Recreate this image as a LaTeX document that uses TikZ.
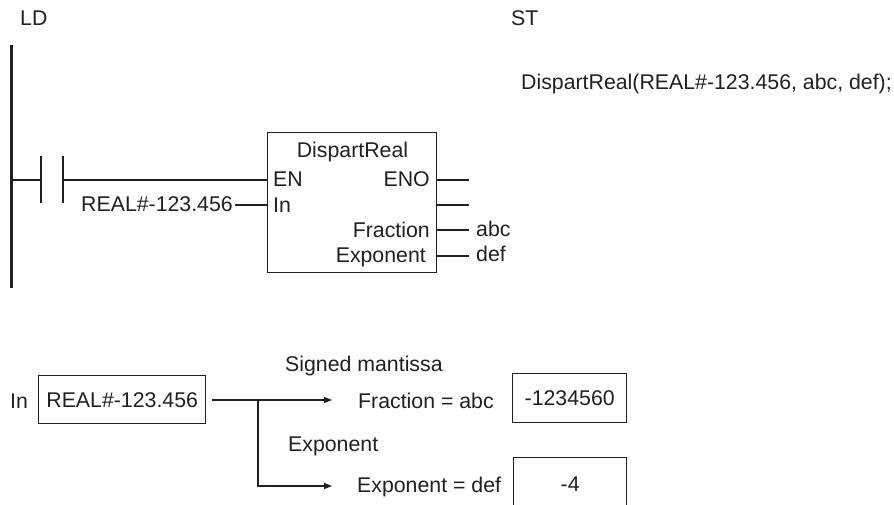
\documentclass[tikz,border=0pt]{standalone}
\usepackage{fontspec}
\setmainfont{Liberation Sans}
\usetikzlibrary{arrows.meta}
\definecolor{ink}{HTML}{231F20}
\begin{document}
\begin{tikzpicture}[x=1pt,y=-1pt,
  every node/.style={text=ink, font=\fontsize{21.3}{25}\selectfont, inner sep=0pt},
  wire/.style={draw=ink, line width=1.4pt},
  rail/.style={draw=ink, line width=3pt},
  valbox/.style={draw=ink, line width=1.4pt, anchor=north west},
  arr/.style={wire, -{Triangle[length=8pt,width=6pt]}}]
\useasboundingbox (0,0) rectangle (894,504);

% headings
\node[anchor=base west] (ld) at (20,25) {LD};
\node[anchor=base west] (st) at (511,25) {ST};
\node[anchor=base west] (code) at (521,89) {DispartReal(REAL\#-123.456, abc, def);};

% ladder rail and contact
\coordinate (railtop) at (11,45);
\coordinate (railbot) at (11,288);
\draw[rail] (railtop) -- (railbot);
\coordinate (r1) at (11,180);
\coordinate (c1t) at (41,156);
\coordinate (c1b) at (41,203);
\coordinate (c1m) at (41,180);
\coordinate (c2t) at (63,156);
\coordinate (c2b) at (63,203);
\coordinate (c2m) at (63,180);
\draw[wire] (r1) -- (c1m);
\draw[wire] (c1t) -- (c1b);
\draw[wire] (c2t) -- (c2b);

% function block
\node[draw=ink, line width=1.4pt, minimum width=169pt, minimum height=140pt,
      anchor=north west] (blk) at (267,132) {};
\draw[wire] (c2m) -- (blk.west |- c2m);
\node[anchor=base] (title) at (352.5,157) {DispartReal};
\node[anchor=base west] (en) at (273,186) {EN};
\node[anchor=base east] (eno) at (430,186) {ENO};
\node[anchor=base west] (in) at (273,212) {In};
\node[anchor=base east] (frac) at (430,237) {Fraction};
\node[anchor=base east] (expo) at (426,262) {Exponent};

\node[anchor=base east] (realtop) at (233,211) {REAL\#-123.456};
\coordinate (inwire) at (235,205);
\draw[wire] (inwire) -- (blk.west |- inwire);

\coordinate (o1) at (469,180);
\coordinate (o2) at (469,205);
\coordinate (o3) at (469,230);
\coordinate (o4) at (469,256);
\draw[wire] (blk.east |- o1) -- (o1);
\draw[wire] (blk.east |- o2) -- (o2);
\draw[wire] (blk.east |- o3) -- (o3);
\draw[wire] (blk.east |- o4) -- (o4);
\node[anchor=base west] (abc) at (476,236) {abc};
\node[anchor=base west] (def) at (476,261) {def};

% lower explanation
\node[anchor=base west] (inlab) at (10,408) {In};
\node[valbox, minimum width=167pt, minimum height=48pt] (inbox) at (38,375) {REAL\#-123.456};
\coordinate (a0) at (212,400);
\coordinate (br) at (258,400);
\coordinate (a1) at (332,400);
\coordinate (br2) at (258,486);
\coordinate (a2) at (332,486);
\draw[wire] (a0) -- (br);
\draw[arr] (br) -- (a1);
\draw[arr] (br) -- (br2) -- (a2);

\node[anchor=base west] (sm) at (285,371) {Signed mantissa};
\node[anchor=base west] (fr) at (358,408) {Fraction = abc};
\node[anchor=base west] (exl) at (288,451) {Exponent};
\node[anchor=base west] (exd) at (357,492) {Exponent = def};

\node[valbox, minimum width=114pt, minimum height=49pt] (b1) at (512,373) {-1234560};
\node[valbox, minimum width=113pt, minimum height=52pt] (b2) at (513,457) {-4};
\end{tikzpicture}
\end{document}
